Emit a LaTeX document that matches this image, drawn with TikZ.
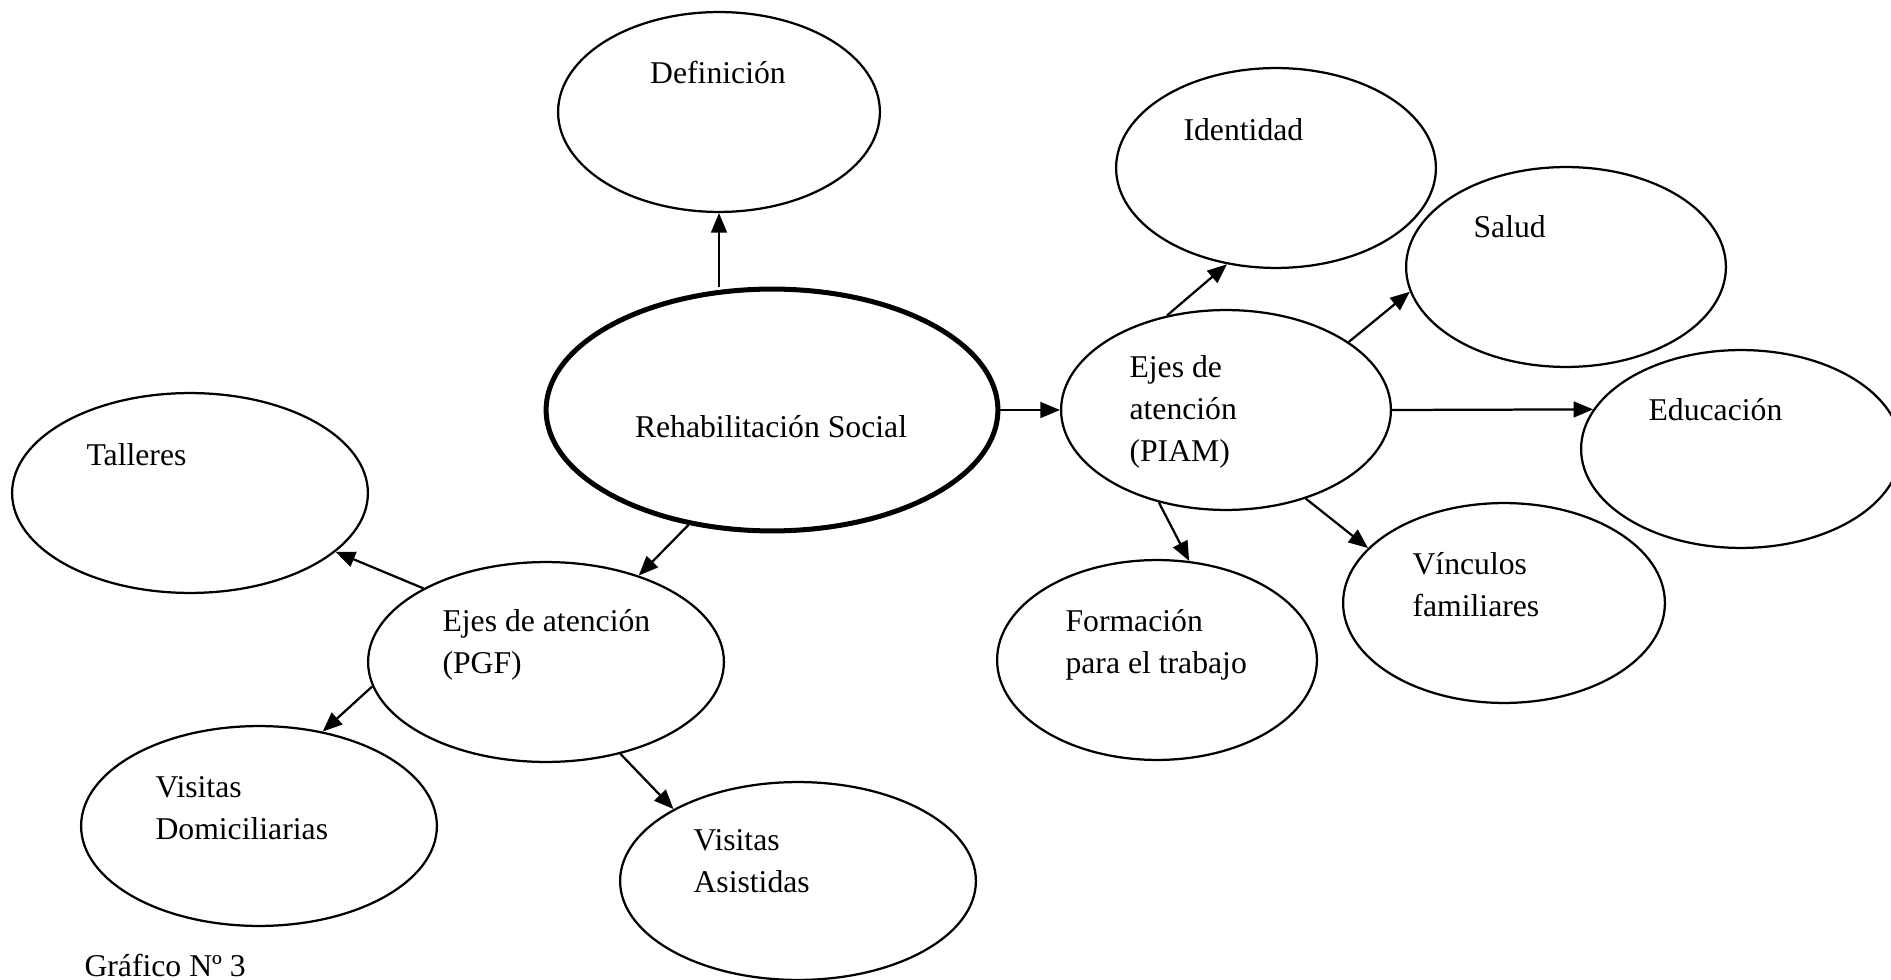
\documentclass[tikz,border=0pt]{standalone}
\usepackage{fontspec}
\setmainfont{Liberation Serif}
\usetikzlibrary{shapes.geometric,arrows.meta}

\begin{document}
\begin{tikzpicture}[x=0.0133cm, y=-0.0133cm,
	oval/.style 2 args={draw, ellipse, line width=0.85pt, inner sep=0pt, minimum width=#1*0.0266cm, minimum height=#2*0.0266cm},
	txt/.style={font=\fontsize{12}{16}\selectfont, inner sep=0pt, align=left, anchor=west},
	arr/.style={-{Triangle[length=2.6mm,width=2.1mm]}, line width=0.85pt}]
		\useasboundingbox (0,0) rectangle (1891,980);
		% centre
		\node [oval={226}{121}, line width=1.9pt] (rehab) at (772,410) {};
		\node [txt, anchor=center] (rehab-t) at (771,427) {Rehabilitación Social};
		\node [oval={161}{100}] (def) at (719,112) {};
		\node [txt, anchor=center] (def-t) at (718,73) {Definición};
		% PIAM side
		\node [oval={165}{100}] (piam) at (1226,410) {};
		\node [txt] (piam-t) at (1129,412) {Ejes de\\atención\\(PIAM)};
		\node [oval={160}{100}] (ident) at (1276,168) {};
		\node [txt] (ident-t) at (1183,130) {Identidad};
		\node [oval={160}{100}] (salud) at (1566,267) {};
		\node [txt] (salud-t) at (1473,227) {Salud};
		\node [oval={160}{99}] (educ) at (1741,449) {};
		\node [txt] (educ-t) at (1648,410) {Educación};
		\node [oval={161}{100}] (vinc) at (1504,603) {};
		\node [txt] (vinc-t) at (1412,585) {Vínculos\\familiares};
		\node [oval={160}{100}] (form) at (1157,660) {};
		\node [txt] (form-t) at (1065,645) {Formación\\para el trabajo};
		% PGF side
		\node [oval={178}{100}] (pgf) at (546,662) {};
		\node [txt] (pgf-t) at (442,645) {Ejes de atención\\(PGF)};
		\node [oval={178}{100}] (tall) at (190,493) {};
		\node [txt] (tall-t) at (86,455) {Talleres};
		\node [oval={178}{100}] (dom) at (259,826) {};
		\node [txt] (dom-t) at (155,808) {Visitas\\Domiciliarias};
		\node [oval={178}{99}] (asis) at (798,881) {};
		\node [txt] (asis-t) at (693,861) {Visitas\\Asistidas};
		\node [txt] (graf) at (84,965) {Gráfico Nº 3};

		\draw [arr] (def.south |- rehab.north) -- (def.south);
		\draw [arr] (rehab.east) -- (piam.west);
		\draw [arr] (rehab.234) -- (pgf.43);
		\draw [arr] (piam.122) -- (ident.243);
		\draw [arr] (piam.29) -- (salud.189);
		\draw [arr] (piam.east) -- (educ.165);
		\draw [arr] (piam.234) -- (form.72);
		\draw [arr] (piam.312) -- (vinc.158);
		\draw [arr] (pgf.149) -- (tall.338);
		\draw [arr] (pgf.188) -- (dom.56);
		\draw [arr] (pgf.309) -- (asis.150);
	\end{tikzpicture}
\end{document}
